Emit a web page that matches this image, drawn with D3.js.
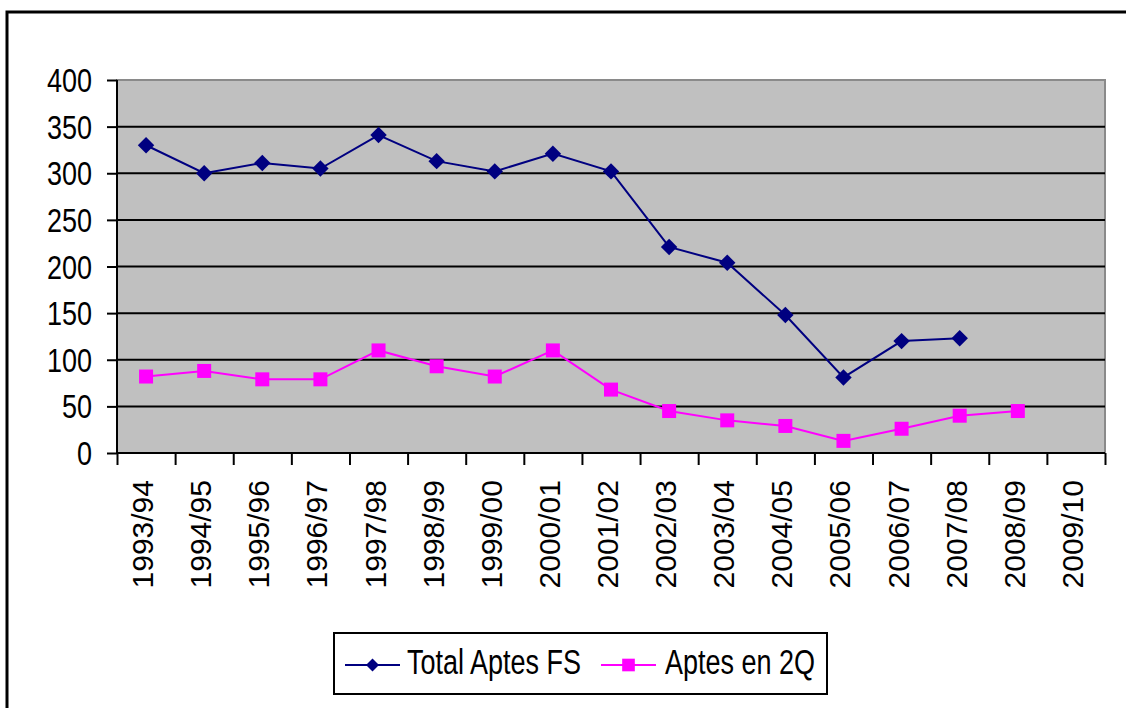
<!DOCTYPE html>
<html>
<head>
<meta charset="utf-8">
<script src="https://cdn.jsdelivr.net/npm/d3@7"></script>
<style>
  body { margin: 0; background: #fff; overflow: hidden; }
  svg { display: block; }
  text { font-family: "Liberation Sans", Arial, sans-serif; fill: #000; }
</style>
</head>
<body>
<svg id="chart"></svg>
<script>
const categories = ['1993/94', '1994/95', '1995/96', '1996/97', '1997/98', '1998/99', '1999/00',
  '2000/01', '2001/02', '2002/03', '2003/04', '2004/05', '2005/06', '2006/07', '2007/08',
  '2008/09', '2009/10']
const totalAptesFS = [330, 300, 311, 305, 341, 313, 302, 321, 302, 221, 204, 148, 81, 120, 123, null, null]
const aptesEn2Q = [82, 88, 79, 79, 110, 93, 82, 110, 68, 45, 35, 29, 13, 26, 40, 45, null]
const yTicks = [0, 50, 100, 150, 200, 250, 300, 350, 400]

const width = 1126
const height = 708

const svg = d3.select('#chart')
  .attr('width', width)
  .attr('height', height)

// outer chart border (runs off the page on the right and bottom)
svg.append('rect')
  .attr('x', 7).attr('y', 12)
  .attr('width', 1300).attr('height', 900)
  .attr('fill', '#fff')
  .attr('stroke', '#000')
  .attr('stroke-width', 3)

const plotLeft = 117, plotRight = 1105, plotTop = 80, plotBottom = 453

const x = d3.scaleBand().domain(categories).range([plotLeft, plotRight])
const xi = d3.scaleLinear().domain([0, categories.length]).range([plotLeft, plotRight])
const y = d3.scaleLinear().domain([0, 400]).range([plotBottom, plotTop])

// plot area
svg.append('rect')
  .attr('x', plotLeft).attr('y', plotTop)
  .attr('width', plotRight - plotLeft).attr('height', plotBottom - plotTop)
  .attr('fill', '#c0c0c0')
  .attr('stroke', '#8a8a8a')
  .attr('stroke-width', 2)

svg.selectAll('.grid')
  .data(yTicks.filter(d => d > 0 && d < 400))
  .enter().append('line')
  .attr('x1', plotLeft).attr('x2', plotRight)
  .attr('y1', d => y(d)).attr('y2', d => y(d))
  .attr('stroke', '#000')
  .attr('stroke-width', 2)

// axes
const yAxis = svg.append('g')
  .attr('transform', `translate(${plotLeft},0)`)
  .call(d3.axisLeft(y).tickValues(yTicks).tickSize(10).tickFormat(''))
const xAxis = svg.append('g')
  .attr('transform', `translate(0,${plotBottom})`)
  .call(d3.axisBottom(xi).tickValues(d3.range(categories.length + 1)).tickSize(12).tickFormat(''))
svg.selectAll('.domain').attr('stroke', '#000').attr('stroke-width', 2)
svg.selectAll('.tick line').attr('stroke', '#000').attr('stroke-width', 2)
yAxis.select('.domain').attr('d', `M0,${plotTop}V${plotBottom}`)
xAxis.select('.domain').attr('d', `M${plotLeft},0H${plotRight}`)

// y tick labels (text in source is vertically stretched)
svg.selectAll('.ylab')
  .data(yTicks)
  .enter().append('g')
  .attr('transform', d => `translate(92,${y(d) + 12}) scale(1,1.25)`)
  .append('text')
  .attr('text-anchor', 'end')
  .style('font-size', '27px')
  .text(d => d)

// x tick labels, rotated
svg.selectAll('.xlab')
  .data(categories)
  .enter().append('text')
  .attr('transform', d => `translate(${x(d) + x.bandwidth() / 2 + 7},480) rotate(-90)`)
  .attr('text-anchor', 'end')
  .style('font-size', '30px')
  .text(d => d)

const cx = d => x(d) + x.bandwidth() / 2

const series = [
  { name: 'Total Aptes FS', values: totalAptesFS, color: '#000080', shape: 'diamond' },
  { name: 'Aptes en 2Q', values: aptesEn2Q, color: '#ff00ff', shape: 'square' }
]

const line = d3.line()
  .defined(d => d[1] !== null)
  .x(d => cx(d[0]))
  .y(d => y(d[1]))

const diamond = d3.symbol().type(d3.symbolSquare).size(135)
const square = d3.symbol().type(d3.symbolSquare).size(196)

series.forEach(s => {
  const pts = categories.map((c, i) => [c, s.values[i]])
  svg.append('path')
    .attr('d', line(pts))
    .attr('fill', 'none')
    .attr('stroke', s.color)
    .attr('stroke-width', 2)

  svg.selectAll(null)
    .data(pts.filter(d => d[1] !== null))
    .enter().append('path')
    .attr('d', s.shape === 'diamond' ? diamond : square)
    .attr('transform', d => `translate(${cx(d[0])},${y(d[1])})` + (s.shape === 'diamond' ? ' rotate(45)' : ''))
    .attr('fill', s.color)
})

// legend
const legend = svg.append('g')
legend.append('rect')
  .attr('x', 334).attr('y', 633)
  .attr('width', 493).attr('height', 61)
  .attr('fill', '#fff')
  .attr('stroke', '#000')
  .attr('stroke-width', 2)

const legendItems = [
  { s: series[0], x0: 345, x1: 400, tx: 407 },
  { s: series[1], x0: 601, x1: 656, tx: 665 }
]
legendItems.forEach(item => {
  legend.append('line')
    .attr('x1', item.x0).attr('x2', item.x1)
    .attr('y1', 665).attr('y2', 665)
    .attr('stroke', item.s.color)
    .attr('stroke-width', 2)
  const mx = (item.x0 + item.x1) / 2
  legend.append('path')
    .attr('d', d3.symbol().type(d3.symbolSquare).size(item.s.shape === 'diamond' ? 84 : 160)())
    .attr('transform', `translate(${mx},665)` + (item.s.shape === 'diamond' ? ' rotate(45)' : ''))
    .attr('fill', item.s.color)
  legend.append('g')
    .attr('transform', `translate(${item.tx},674) scale(1,1.27)`)
    .append('text')
    .style('font-size', '27px')
    .text(item.s.name)
})
</script>
</body>
</html>
